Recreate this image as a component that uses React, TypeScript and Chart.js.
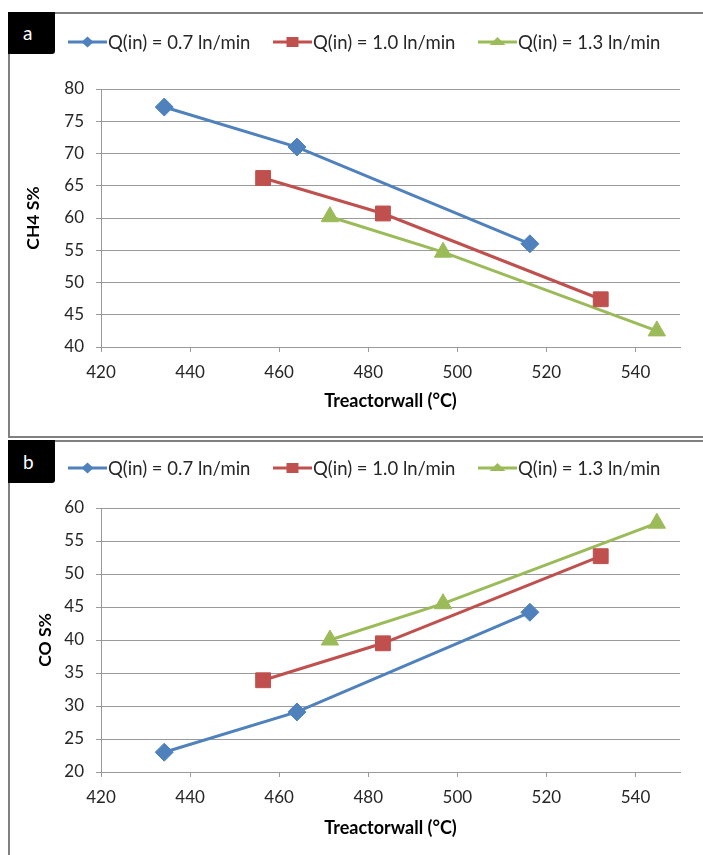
import React, { useEffect, useRef } from "react";
import { Chart, registerables } from "chart.js";

Chart.register(...registerables);

// ---- data ----
const seriesLabels = ["Q(in) = 0.7 ln/min", "Q(in) = 1.0 ln/min", "Q(in) = 1.3 ln/min"];
const tempQ07 = [434.2, 464.0, 516.3];
const tempQ10 = [456.4, 483.3, 532.2];
const tempQ13 = [471.4, 496.8, 544.8];
const ch4Q07 = [77.2, 71.0, 56.0];
const ch4Q10 = [66.2, 60.7, 47.4];
const ch4Q13 = [60.2, 54.7, 42.5];
const coQ07 = [23.0, 29.1, 44.2];
const coQ10 = [33.9, 39.5, 52.7];
const coQ13 = [40.0, 45.5, 57.7];
const xTitle = "Treactorwall (°C)";
const yTitleA = "CH4 S%";
const yTitleB = "CO S%";
const xMin = 420;
const xMax = 550;
const xStep = 20;
const yRangeA = [40, 80];
const yRangeB = [20, 60];
const yStep = 5;

// ---- styles ----
const COLORS = ["#4F81BD", "#C0504D", "#9BBB59"];
const POINT_STYLES = ["rectRot", "rect", "triangle"];
const POINT_RADII = [9, 10.5, 10];
const GRID = "#9a9a9a";
const TEXT = "#262626";
const FONT = "Lato, 'Open Sans', sans-serif";

const legendPlugin = {
  id: "lineLegend",
  afterDraw(chart: any, _args: any, opts: any) {
    const ctx = chart.ctx as CanvasRenderingContext2D;
    ctx.save();
    chart.data.datasets.forEach((ds: any, i: number) => {
      const x0 = opts.xs[i];
      const y = opts.y;
      const len = 39;
      ctx.strokeStyle = ds.borderColor;
      ctx.lineWidth = 3;
      ctx.beginPath();
      ctx.moveTo(x0, y);
      ctx.lineTo(x0 + len, y);
      ctx.stroke();
      const cx = x0 + len / 2;
      ctx.fillStyle = ds.borderColor;
      ctx.beginPath();
      if (ds.pointStyle === "rectRot") {
        ctx.moveTo(cx, y - 5.5);
        ctx.lineTo(cx + 6, y);
        ctx.lineTo(cx, y + 5.5);
        ctx.lineTo(cx - 6, y);
      } else if (ds.pointStyle === "rect") {
        ctx.rect(cx - 6, y - 5, 12, 10);
      } else {
        ctx.moveTo(cx, y - 5);
        ctx.lineTo(cx + 8, y + 3);
        ctx.lineTo(cx - 8, y + 3);
      }
      ctx.closePath();
      ctx.fill();
      ctx.fillStyle = TEXT;
      ctx.font = `18.5px ${FONT}`;
      ctx.textBaseline = "middle";
      ctx.textAlign = "left";
      ctx.fillText(ds.label, x0 + len + 1, y + 1);
    });
    ctx.restore();
  },
};

type PanelProps = {
  xs: number[][];
  ys: number[][];
  yRange: number[];
  yTitle: string;
  top: number;
  height: number;
  padTop: number;
  xAxisHeight: number;
  xTitlePad: number;
  yTitlePad: number;
  legendY: number;
};

function ChartPanel(p: PanelProps) {
  const ref = useRef<HTMLCanvasElement | null>(null);
  useEffect(() => {
    if (!ref.current) return;
    const datasets = seriesLabels.map((label, i) => ({
      label,
      data: p.xs[i].map((x, j) => ({ x, y: p.ys[i][j] })),
      borderColor: COLORS[i],
      backgroundColor: COLORS[i],
      pointBackgroundColor: COLORS[i],
      pointBorderColor: COLORS[i],
      pointBorderWidth: 1,
      pointStyle: POINT_STYLES[i],
      pointRadius: POINT_RADII[i],
      borderWidth: 3,
      tension: 0,
      fill: false,
    }));
    const chart = new Chart(ref.current, {
      type: "line",
      data: { datasets } as any,
      plugins: [legendPlugin],
      options: {
        responsive: false,
        animation: false,
        layout: { padding: { top: p.padTop, right: 23, left: 0, bottom: 0 } },
        plugins: {
          legend: { display: false },
          tooltip: { enabled: false },
          lineLegend: { xs: [60, 265, 470], y: p.legendY },
        } as any,
        scales: {
          x: {
            type: "linear",
            min: xMin,
            max: xMax,
            ticks: { stepSize: xStep, includeBounds: false, padding: 10, color: TEXT, font: { family: FONT, size: 17 } },
            grid: { drawOnChartArea: false, drawTicks: true, tickLength: 5, color: GRID },
            border: { color: GRID, width: 1 },
            title: {
              display: true,
              text: xTitle,
              color: "#000",
              font: { family: FONT, size: 18, weight: "bold" },
              padding: { top: 0, bottom: p.xTitlePad },
            },
            afterFit: (s: any) => {
              s.height = p.xAxisHeight;
            },
          },
          y: {
            type: "linear",
            min: p.yRange[0],
            max: p.yRange[1],
            ticks: { stepSize: yStep, padding: 12, color: TEXT, font: { family: FONT, size: 17 } },
            grid: { drawTicks: true, tickLength: 5, color: GRID },
            border: { color: GRID, width: 1 },
            title: {
              display: true,
              text: p.yTitle,
              color: "#000",
              font: { family: FONT, size: 17.5, weight: "bold" },
              padding: { top: p.yTitlePad, bottom: 0 },
            },
            afterFit: (s: any) => {
              s.width = 93;
            },
          },
        },
      } as any,
    });
    return () => chart.destroy();
  }, []);
  return (
    <canvas
      ref={ref}
      width={695}
      height={p.height}
      style={{ position: "absolute", left: 0, top: p.top, width: 695, height: p.height }}
    />
  );
}

const labelBox = (txt: string, top: number, h: number) => (
  <div
    style={{
      position: "absolute",
      left: 0,
      top,
      width: 47,
      height: h,
      background: "#000",
      color: "#fff",
      fontFamily: FONT,
      fontSize: 19,
      lineHeight: `${h}px`,
      paddingLeft: 15,
      boxSizing: "border-box",
      borderBottomRightRadius: 3,
    }}
  >
    {txt}
  </div>
);

export default function App() {
  return (
    <div style={{ position: "fixed", left: 8, top: 8, width: 695, height: 847, overflow: "hidden" }}>
      <div
        style={{
          position: "absolute",
          left: 0,
          top: 4,
          width: 720,
          height: 426,
          border: "2px solid #808080",
          boxSizing: "border-box",
        }}
      />
      <div
        style={{
          position: "absolute",
          left: 0,
          top: 432,
          width: 720,
          height: 440,
          border: "2px solid #808080",
          boxSizing: "border-box",
        }}
      />
      <ChartPanel
        xs={[tempQ07, tempQ10, tempQ13]}
        ys={[ch4Q07, ch4Q10, ch4Q13]}
        yRange={yRangeA}
        yTitle={yTitleA}
        top={4}
        height={426}
        padTop={77}
        xAxisHeight={91}
        xTitlePad={26}
        yTitlePad={15}
        legendY={30}
      />
      <ChartPanel
        xs={[tempQ07, tempQ10, tempQ13]}
        ys={[coQ07, coQ10, coQ13]}
        yRange={yRangeB}
        yTitle={yTitleB}
        top={432}
        height={415}
        padTop={68}
        xAxisHeight={83}
        xTitlePad={16}
        yTitlePad={27}
        legendY={28}
      />
      {labelBox("a", 4, 42)}
      {labelBox("b", 432, 43)}
    </div>
  );
}
